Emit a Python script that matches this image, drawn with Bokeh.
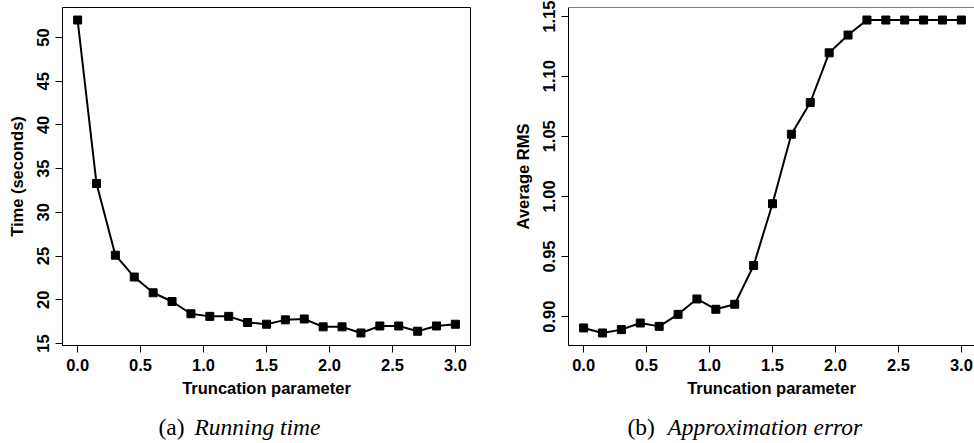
from bokeh.plotting import figure
from bokeh.layouts import row, column
from bokeh.models import Label, Range1d, FixedTicker, Span
from bokeh.embed import file_html
from bokeh.resources import INLINE

# ---------------- data ----------------
truncation = [0.0, 0.15, 0.3, 0.45, 0.6, 0.75, 0.9, 1.05, 1.2, 1.35, 1.5,
              1.65, 1.8, 1.95, 2.1, 2.25, 2.4, 2.55, 2.7, 2.85, 3.0]
time_seconds = [52.0, 33.3, 25.1, 22.6, 20.8, 19.8, 18.4, 18.1, 18.1, 17.4, 17.2,
                17.7, 17.8, 16.9, 16.9, 16.2, 17.0, 17.0, 16.4, 17.0, 17.2]
average_rms = [0.8906, 0.8864, 0.8892, 0.8947, 0.8919, 0.9019, 0.9147, 0.9061,
               0.9103, 0.9425, 0.9939, 1.0517, 1.0781, 1.1194, 1.1342, 1.1467,
               1.1467, 1.1467, 1.1467, 1.1467, 1.1467]

x_ticks = [0.0, 0.5, 1.0, 1.5, 2.0, 2.5, 3.0]
x_tick_labels = ["0.0", "0.5", "1.0", "1.5", "2.0", "2.5", "3.0"]
time_ticks = [15, 20, 25, 30, 35, 40, 45, 50]
time_tick_labels = ["15", "20", "25", "30", "35", "40", "45", "50"]
rms_ticks = [0.90, 0.95, 1.00, 1.05, 1.10, 1.15]
rms_tick_labels = ["0.90", "0.95", "1.00", "1.05", "1.10", "1.15"]

x_title = "Truncation parameter"
time_title = "Time (seconds)"
rms_title = "Average RMS"
cap_a = ("(a)", "Running time")
cap_b = ("(b)", "Approximation error")

SANS = "Liberation Sans"
SERIF = "Liberation Serif"
FS = "16.5px"
CAP_FS = "23.5px"

FULL_FRAME_W = 408
FRAME_H = 338
BORDER_TOP = 7
BORDER_BOTTOM = 62
CAP_H = 443 - BORDER_TOP - FRAME_H - BORDER_BOTTOM


def r_range(vals):
    lo, hi = min(vals), max(vals)
    pad = 0.04 * (hi - lo)
    return lo - pad, hi + pad


def make_panel(yvals, yticks, ylabels, ytitle, border_left, frame_w,
               border_right, full_box):
    xs, xe_full = r_range(truncation)
    xe = xs + (xe_full - xs) * frame_w / FULL_FRAME_W
    ys, ye = r_range(yvals)
    p = figure(title=None, frame_width=frame_w, frame_height=FRAME_H,
               min_border_left=border_left, min_border_right=border_right,
               min_border_top=BORDER_TOP, min_border_bottom=BORDER_BOTTOM,
               x_range=Range1d(xs, xe), y_range=Range1d(ys, ye),
               output_backend="svg", toolbar_location=None,
               background_fill_color="white", border_fill_color="white")
    p.grid.visible = False
    p.outline_line_color = "black" if full_box else None
    p.outline_line_width = 1
    p.outline_line_alpha = 1

    p.line(truncation, yvals, line_color="black", line_width=2)
    p.scatter(truncation, yvals, marker="square", size=8,
              fill_color="black", line_color="black")

    xa = p.xaxis[0]
    xa.ticker = FixedTicker(ticks=x_ticks)
    xa.major_label_overrides = dict(zip(x_ticks, x_tick_labels))
    ya = p.yaxis[0]
    ya.ticker = FixedTicker(ticks=yticks)
    ya.major_label_overrides = dict(zip(yticks, ylabels))
    ya.major_label_orientation = "vertical"
    xa.axis_label = x_title
    ya.axis_label = ytitle
    for ax in (xa, ya):
        ax.minor_tick_line_color = None
        ax.major_tick_in = 0
        ax.major_tick_out = 7
        ax.major_tick_line_color = "black"
        ax.axis_line_color = "black"
        ax.major_label_text_font = SANS
        ax.major_label_text_font_style = "bold"
        ax.major_label_text_font_size = FS
        ax.major_label_text_color = "black"
        ax.axis_label_text_font = SANS
        ax.axis_label_text_font_style = "bold"
        ax.axis_label_text_font_size = FS
        ax.axis_label_text_color = "black"
    xa.major_label_standoff = 6
    xa.axis_label_standoff = 5
    ya.major_label_standoff = 6
    ya.axis_label_standoff = 9

    if not full_box:
        # top edge of the (clipped) box
        p.add_layout(Span(location=ye, dimension="width",
                          line_color="black", line_width=1))
    return p


p1 = make_panel(time_seconds, time_ticks, time_tick_labels, time_title,
                62, 408, 17, True)
p2 = make_panel(average_rms, rms_ticks, rms_tick_labels, rms_title,
                81, 406, 0, False)

# caption strip below the two panels
cap = figure(title=None, frame_width=974, frame_height=CAP_H,
             min_border_left=0, min_border_right=0,
             min_border_top=0, min_border_bottom=0,
             x_range=Range1d(0, 974), y_range=Range1d(0, CAP_H),
             output_backend="svg", toolbar_location=None,
             background_fill_color="white", border_fill_color="white")
cap.axis.visible = False
cap.grid.visible = False
cap.outline_line_color = None
for (txt, italic), xpos in zip([(cap_a[0], False), (cap_a[1], True),
                                (cap_b[0], False), (cap_b[1], True)],
                               [158, 194, 627, 667]):
    cap.add_layout(Label(x=xpos, y=17, x_units="screen", y_units="screen",
                         text=txt, text_font=SERIF, text_font_size=CAP_FS,
                         text_font_style="italic" if italic else "normal",
                         text_color="black", text_baseline="alphabetic"))

layout = column(row(p1, p2, spacing=0), cap, spacing=0)
open("out.html", "w").write(file_html(layout, INLINE))
